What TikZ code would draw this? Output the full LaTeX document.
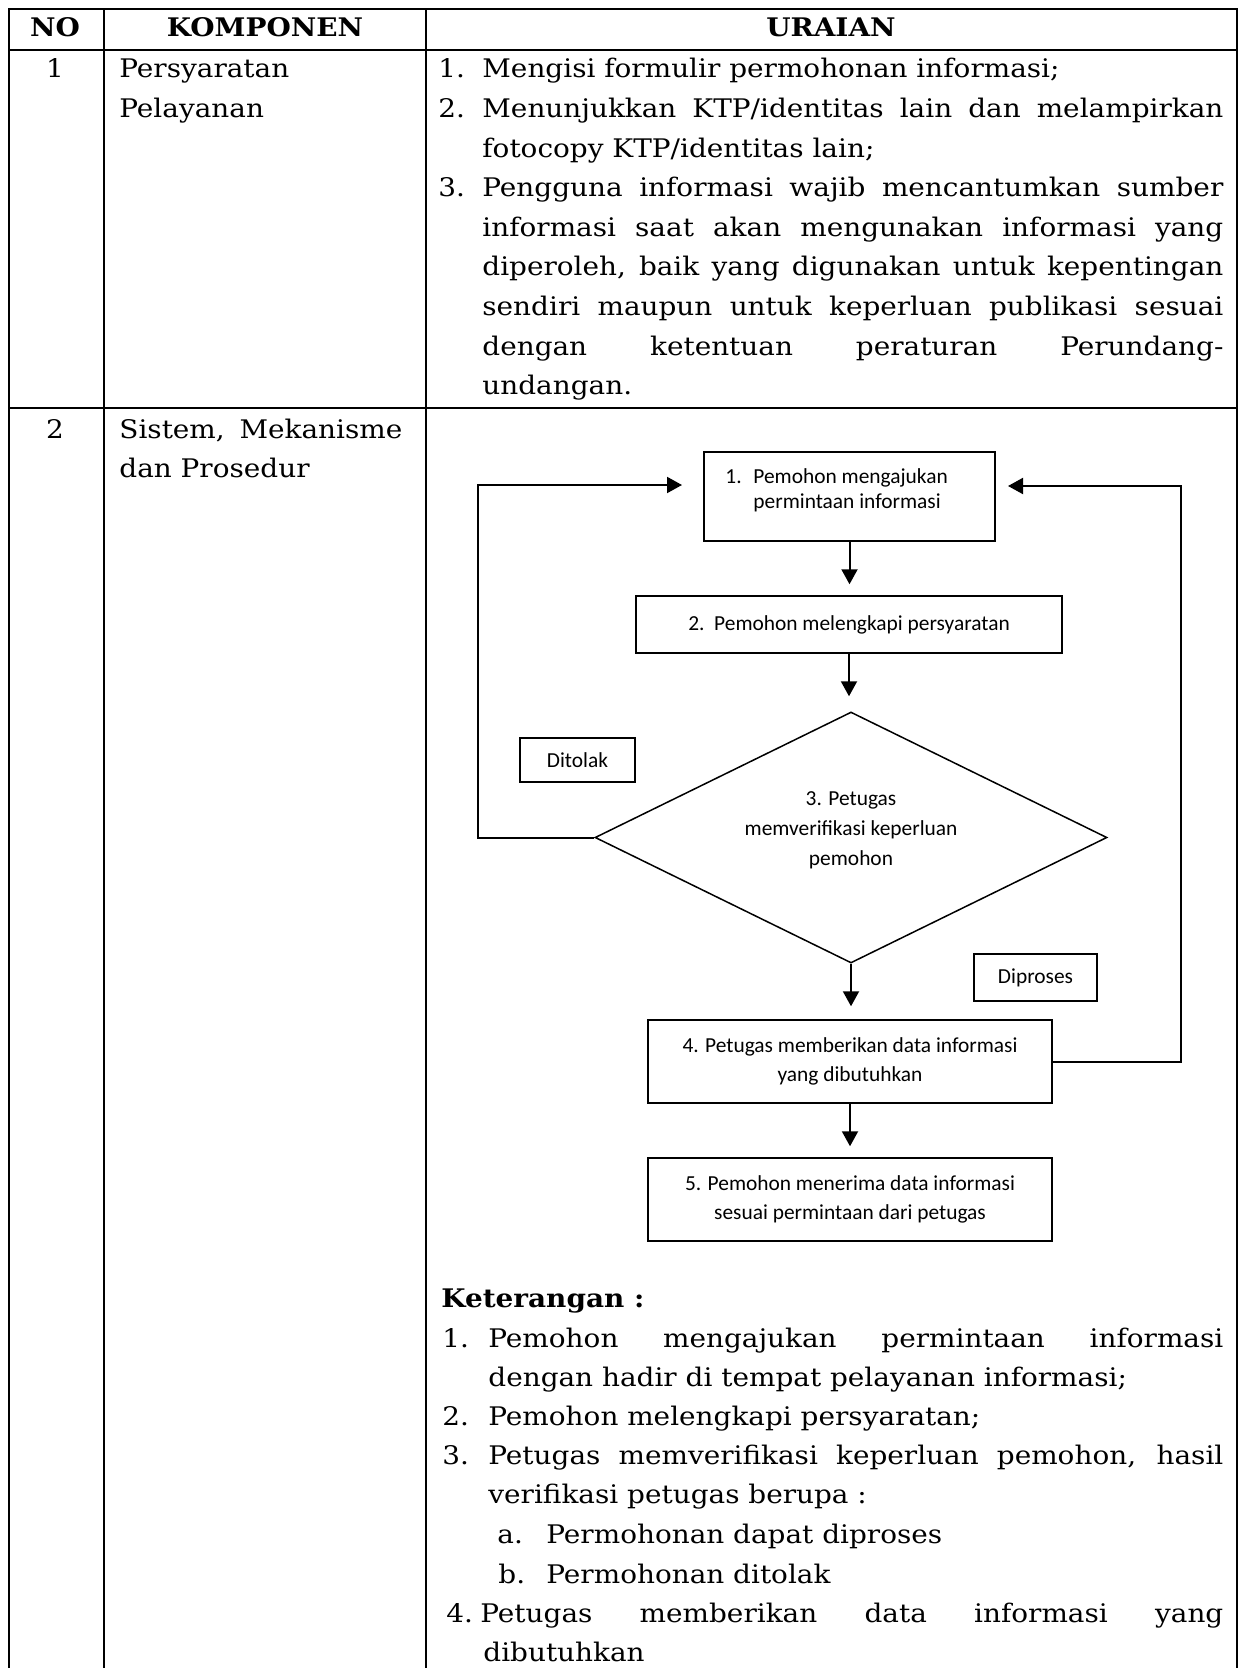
\documentclass[tikz,border=0pt]{standalone}
\usepackage{fontspec}
\setmainfont{DejaVu Serif}[FakeStretch=1.09]
\newfontfamily\flowfont{Carlito}
\usetikzlibrary{arrows.meta,shapes.geometric}

\newcommand{\bodysize}{\fontsize{12.8pt}{19.4pt}\selectfont}
\newcommand{\flowsize}{\flowfont\fontsize{10.7pt}{14.5pt}\selectfont}
\newcommand{\jline}[2]{\makebox[#1][s]{#2}}

\begin{document}
\begin{tikzpicture}[x=0.5pt,y=-0.5pt,
  txt/.style={anchor=base west, inner sep=0pt, font=\bodysize},
  ctxt/.style={anchor=base, inner sep=0pt, font=\bodysize},
  hdr/.style={anchor=base, inner sep=0pt, font=\bodysize\bfseries},
  grid/.style={line width=1.1pt},
  fbox/.style={draw, line width=0.75pt, inner sep=0pt, align=center, font=\flowsize},
  ftxt/.style={anchor=base west, inner sep=0pt, font=\flowsize},
  conn/.style={line width=1pt},
  arr/.style={conn, -{Triangle[length=7.5pt,width=8pt]}},
]
\useasboundingbox (0,0) rectangle (1239,1668);
\fill[white] (0,0) rectangle (1239,1668);

% table grid
\draw[grid] (9,1672) -- (9,9) -- (1237,9) -- (1237,1672);
\draw[grid] (9,50) -- (1237,50);
\draw[grid] (9,408) -- (1237,408);
\draw[grid] (104,9) -- (104,1672);
\draw[grid] (426,9) -- (426,1672);

% header
\node[hdr] (hno) at (55,37) {NO};
\node[hdr] (hkomp) at (265,37) {KOMPONEN};
\node[hdr] (hurai) at (831,37) {URAIAN};

% row 1
\node[ctxt] (r1no) at (55,78) {1};
\node[txt] (r1k1) at (119,78) {Persyaratan};
\node[txt] (r1k2) at (119,117.6) {Pelayanan};

\node[txt] (u1n) at (438,78) {1.};
\node[txt] (u1a) at (482,78) {Mengisi formulir permohonan informasi;};
\node[txt] (u2n) at (438,117.6) {2.};
\node[txt] (u2a) at (482,117.6) {\jline{370.5pt}{Menunjukkan KTP/identitas lain dan melampirkan}};
\node[txt] (u2b) at (482,157.2) {fotocopy KTP/identitas lain;};
\node[txt] (u3n) at (438,196.8) {3.};
\node[txt] (u3a) at (482,196.8) {\jline{370.5pt}{Pengguna informasi wajib mencantumkan sumber}};
\node[txt] (u3b) at (482,236.4) {\jline{370.5pt}{informasi saat akan mengunakan informasi yang}};
\node[txt] (u3c) at (482,276) {\jline{370.5pt}{diperoleh, baik yang digunakan untuk kepentingan}};
\node[txt] (u3d) at (482,315.6) {\jline{370.5pt}{sendiri maupun untuk keperluan publikasi sesuai}};
\node[txt] (u3e) at (482,355.2) {\jline{370.5pt}{dengan ketentuan peraturan Perundang-}};
\node[txt] (u3f) at (482,394.8) {undangan.};

% row 2
\node[ctxt] (r2no) at (55,438) {2};
\node[txt] (r2k1) at (119,438) {\jline{141.5pt}{Sistem, Mekanisme}};
\node[txt] (r2k2) at (119,477) {dan Prosedur};

% flowchart
\node[fbox, minimum width=145.5pt, minimum height=44.5pt] (b1) at (849.5,496.5) {};
\node[ftxt] (b1n) at (725,483) {1.};
\node[ftxt] (b1a) at (753,483) {Pemohon mengajukan};
\node[ftxt] (b1b) at (753,508) {permintaan informasi};

\node[fbox, minimum width=213pt, minimum height=28.5pt] (b2) at (849,624.5) {2.\ \ Pemohon melengkapi persyaratan};

\node[draw, line width=0.75pt, diamond, aspect=2.04, inner sep=0pt,
      minimum width=256pt, minimum height=125.5pt] (d3) at (851,837.5) {};
\node[align=center, inner sep=0pt, font=\flowfont\fontsize{10.7pt}{15pt}\selectfont] (d3t) at (851,830)
  {3. Petugas\\memverifikasi keperluan\\pemohon};

\node[fbox, minimum width=57.5pt, minimum height=22pt] (tolak) at (577.5,760) {Ditolak};
\node[fbox, minimum width=61.5pt, minimum height=23.5pt] (proses) at (1035.5,977.5) {Diproses};

\node[fbox, minimum width=202pt, minimum height=41.5pt] (b4) at (850,1061.5)
  {4. Petugas memberikan data informasi\\yang dibutuhkan};
\node[fbox, minimum width=202pt, minimum height=41.5pt] (b5) at (850,1199.5)
  {5. Pemohon menerima data informasi\\sesuai permintaan dari petugas};

\draw[arr, shorten >=5.5pt] (b1.south) -- (b1.south |- b2.north);
\draw[arr, shorten >=7.5pt] (b2.south) -- (b2.south |- d3.north);
\draw[arr, shorten >=6.5pt] (d3.south) -- (d3.south |- b4.north);
\draw[arr, shorten >=5.5pt] (b4.south) -- (b4.south |- b5.north);

\coordinate (lc) at (478,485);
\coordinate (ltip) at (682,485);
\draw[arr] (d3.west) -| (lc) -- (ltip);
\coordinate (rc) at (1181,486);
\coordinate (rtip) at (1008,486);
\draw[arr] (b4.east) -| (rc) -- (rtip);

% keterangan
\node[txt, font=\bodysize\bfseries] (ket) at (441,1307) {Keterangan :};
\node[txt] (k1n) at (442,1347) {1.};
\node[txt] (k1a) at (488,1347) {\jline{367.5pt}{Pemohon mengajukan permintaan informasi}};
\node[txt] (k1b) at (488,1386) {dengan hadir di tempat pelayanan informasi;};
\node[txt] (k2n) at (442,1425) {2.};
\node[txt] (k2a) at (488,1425) {Pemohon melengkapi persyaratan;};
\node[txt] (k3n) at (442,1464) {3.};
\node[txt] (k3a) at (488,1464) {\jline{367.5pt}{Petugas memverifikasi keperluan pemohon, hasil}};
\node[txt] (k3b) at (488,1503) {verifikasi petugas berupa :};
\node[txt] (kan) at (497,1543) {a.};
\node[txt] (kaa) at (546,1543) {Permohonan dapat diproses};
\node[txt] (kbn) at (498,1583) {b.};
\node[txt] (kba) at (546,1583) {Permohonan ditolak};
\node[txt] (k4n) at (446,1622) {4.};
\node[txt] (k4a) at (480,1622) {\jline{371.5pt}{Petugas memberikan data informasi yang}};
\node[txt] (k4b) at (483,1661) {dibutuhkan};
\end{tikzpicture}
\end{document}
